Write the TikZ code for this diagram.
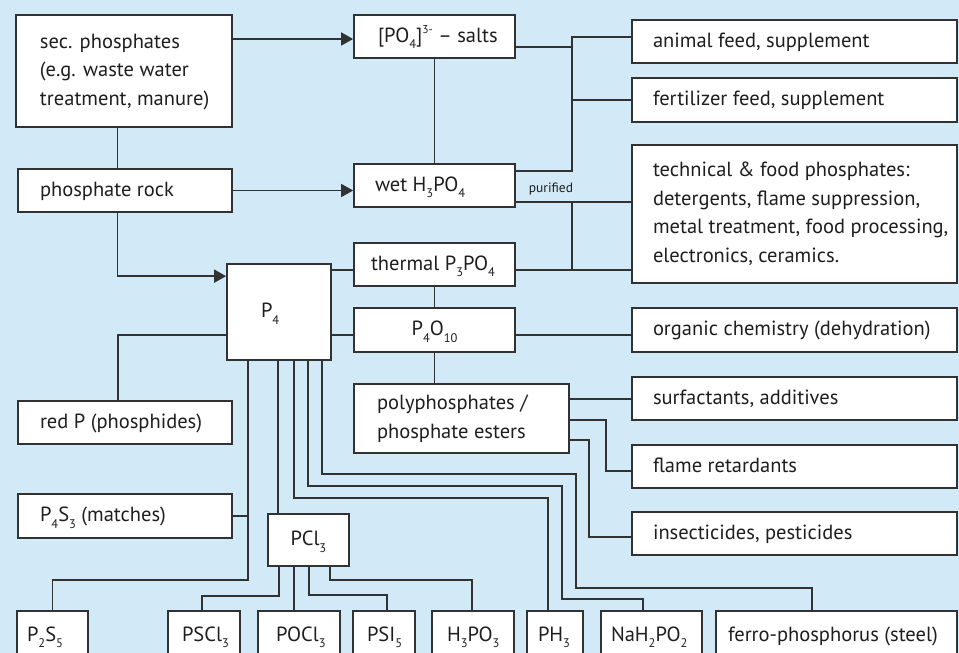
\documentclass[tikz,border=0pt]{standalone}
\usepackage{fontspec}
\setmainfont{PT Sans}
\usetikzlibrary{arrows.meta,calc}
\definecolor{bg}{RGB}{210,233,248}
\definecolor{lc}{RGB}{50,50,50}
\definecolor{txt}{RGB}{30,30,30}
\newcommand\dn[1]{\raisebox{-0.32em}{\fontsize{12.5}{12.5}\selectfont #1}}
\newcommand\up[1]{\raisebox{0.42em}{\fontsize{11.5}{11.5}\selectfont #1}}
\newcommand\bxt[3]{\hspace*{#1pt}\makebox[\dimexpr#2pt-#1pt\relax][l]{\begin{tabular}{@{}l@{}}#3\end{tabular}}}
\newcommand\bxc[2]{\makebox[#1pt]{\begin{tabular}{@{}c@{}}#2\end{tabular}}}
\tikzset{
  bxs/.style={draw=lc, line width=1.7pt, fill=white, inner xsep=0pt, inner ysep=0pt, text=txt, font=\fontsize{20.5}{28.5}\selectfont},
  conn/.style={draw=lc, line width=1.6pt},
  arr/.style={-{Triangle[length=12pt,width=13pt]}},
}
\begin{document}
\begin{tikzpicture}[x=1pt,y=-1pt]
\useasboundingbox (0,0) rectangle (959,653);
\fill[bg] (0,0) rectangle (959,653);
\clip (0,0) rectangle (959,653);
% left column
\node[bxs, minimum height=112pt] (sec) at (124,71) {\bxt{24}{216}{sec. phosphates\\(e.g. waste water\\treatment, manure)}};
\node[bxs, minimum height=43pt] (rock) at (125,190.5) {\bxt{22}{214}{phosphate rock}};
\node[bxs, minimum height=43pt] (redp) at (125,422.5) {\bxt{22}{214}{red P (phosphides)}};
\node[bxs, minimum height=44pt] (p4s3) at (125,516) {\bxt{22}{214}{P\dn{4}S\dn{3} (matches)}};
% middle column
\node[bxs, minimum height=43pt] (salts) at (434.5,36.5) {\bxt{24}{161}{[PO\dn{4}]\up{3-} -- salts}};
\node[bxs, minimum height=43pt] (wet) at (434.5,185.5) {\bxt{21}{161}{wet H\dn{3}PO\dn{4}}};
\node[bxs, minimum height=43pt] (thermal) at (434.5,264.5) {\bxt{17}{161}{thermal P\dn{3}PO\dn{4}}};
\node[bxs, minimum height=44pt] (p4o10) at (434.5,330) {\bxc{161}{P\dn{4}O\dn{10}}};
\node[bxs, minimum height=69pt] (poly) at (461.5,418.5) {\bxt{23}{215}{polyphosphates /\\phosphate esters}};
\node[bxs, minimum height=96pt] (p4) at (279,312) {\bxt{34}{104}{P\dn{4}}};
\node[bxs, minimum height=52pt] (pcl3) at (308.5,540) {\bxc{81}{PCl\dn{3}}};
% right column
\node[bxs, minimum height=43pt] (animal) at (794.5,41.5) {\bxt{21}{325}{animal feed, supplement}};
\node[bxs, minimum height=44pt] (fert) at (794.5,100) {\bxt{21}{325}{fertilizer feed, supplement}};
\node[bxs, minimum height=138pt] (tech) at (794.5,214) {\bxt{21}{325}{technical \& food phosphates:\\detergents, flame suppression,\\metal treatment, food processing,\\electronics, ceramics.}};
\node[bxs, minimum height=44pt] (organic) at (794.5,330) {\bxt{21}{325}{organic chemistry (dehydration)}};
\node[bxs, minimum height=43pt] (surf) at (794.5,398.5) {\bxt{21}{325}{surfactants, additives}};
\node[bxs, minimum height=43pt] (flame) at (794.5,466.5) {\bxt{21}{325}{flame retardants}};
\node[bxs, minimum height=43pt] (insect) at (794.5,533.5) {\bxt{21}{325}{insecticides, pesticides}};
% bottom row
\node[bxs, minimum height=49pt] (p2s5) at (52.5,635.5) {\bxt{10}{71}{P\dn{2}S\dn{5}}};
\node[bxs, minimum height=49pt] (pscl3) at (204,635.5) {\bxt{14}{72}{PSCl\dn{3}}};
\node[bxs, minimum height=49pt] (pocl3) at (299,635.5) {\bxt{18}{82}{POCl\dn{3}}};
\node[bxs, minimum height=49pt] (psi5) at (384,635.5) {\bxt{14}{62}{PSI\dn{5}}};
\node[bxs, minimum height=49pt] (h3po3) at (473,635.5) {\bxt{15}{82}{H\dn{3}PO\dn{3}}};
\node[bxs, minimum height=49pt] (ph3) at (555,635.5) {\bxt{11}{56}{PH\dn{3}}};
\node[bxs, minimum height=49pt] (nah) at (651.5,635.5) {\bxt{10}{101}{NaH\dn{2}PO\dn{2}}};
\node[bxs, minimum height=49pt] (ferro) at (836.5,635.5) {\bxt{12}{241}{ferro-phosphorus (steel)}};
% label
\node[text=txt, font=\fontsize{13.5}{13.5}\selectfont, inner sep=0pt] (pur) at (551,189) {purified};
% junction coordinates
\coordinate (b1) at (572,37);
\coordinate (b2) at (572,171);
\coordinate (b3) at (572,202);
\coordinate (s1) at ([yshift=-2.5pt]salts.west);
\coordinate (t1) at ([yshift=-5.5pt]thermal.east);
\coordinate (v1) at ([xshift=-31pt]p4.south);
\coordinate (v2) at ([xshift=-14.5pt]pcl3.south);
% arrows
\draw[conn,arr] (sec.east |- s1) -- (s1);
\draw[conn,arr] (rock.east) -- (rock.east -| wet.west);
\draw[conn] ([xshift=-6.5pt]sec.south) -- ([xshift=-6.5pt]sec.south |- rock.north);
\draw[conn,arr] ([xshift=-7.5pt]rock.south) |- ([yshift=-13pt]p4.north west);
% top right bus
\draw[conn] (salts.south) -- (wet.north);
\draw[conn] ([yshift=4.5pt]animal.west) -- (b1) -- (b2) -- (b2 -| wet.east);
\draw[conn] ([yshift=-10.5pt]salts.east) -- ([yshift=-10.5pt]salts.east -| b1);
\draw[conn] (fert.west) -- (fert.west -| b1);
\draw[conn] ([yshift=-16.5pt]wet.east) -- ([yshift=-16.5pt]wet.east -| tech.west);
\draw[conn] (t1) -- (t1 -| tech.west);
\draw[conn] (b3) -- (b3 |- t1);
% P4 connections
\draw[conn] ([yshift=42pt]p4.east) -- ([yshift=42pt]p4.east -| thermal.west);
\draw[conn] ([yshift=-23pt]p4.east) -- ([yshift=-23pt]p4.east -| p4o10.west);
\draw[conn] (thermal.south) -- (p4o10.north);
\draw[conn] ([yshift=-5pt]p4o10.east) -- ([yshift=-5pt]p4o10.east -| organic.west);
\draw[conn] (p4o10.south) -- (p4o10.south |- poly.north);
\draw[conn] ([yshift=19.5pt]poly.east) -- ([yshift=19.5pt]poly.east -| surf.west);
\draw[conn] ([yshift=-1.5pt]poly.east) -- ++(36,0) |- ([yshift=-4.5pt]flame.west);
\draw[conn] ([yshift=-21.5pt]poly.east) -- ++(19,0) |- ([yshift=-3.5pt]insect.west);
\draw[conn] ([yshift=-23pt]p4.west) -| ([xshift=-7pt]redp.north);
\draw[conn] (v1) -- ++(0,219) -| (p2s5.north);
\draw[conn] (p4s3.east) -- (p4s3.east -| v1);
\draw[conn] ([xshift=-1pt]p4.south) -- ([xshift=-1pt]p4.south |- pcl3.north);
\draw[conn] ([xshift=15pt]p4.south) -- ++(0,137) -| ([xshift=-7pt]ph3.north);
\draw[conn] ([xshift=29pt]p4.south) -- ++(0,125) -- ++(254,0) -- ++(0,113) -| ([xshift=-8.5pt]nah.north);
\draw[conn] ([xshift=43pt]p4.south) -- ++(0,113) -- ++(254,0) -- ++(0,114) -| ([xshift=-24.5pt]ferro.north);
% PCl3 connections
\draw[conn] ([xshift=-29.5pt]pcl3.south) -- ++(0,29) -| ([xshift=-2pt]pscl3.north);
\draw[conn] (v2) -- (v2 |- pocl3.north);
\draw[conn] ([xshift=0.5pt]pcl3.south) -- ++(0,28) -| ([xshift=3pt]psi5.north);
\draw[conn] ([xshift=21.5pt]pcl3.south) -- ++(0,13) -| ([xshift=-1pt]h3po3.north);
\end{tikzpicture}
\end{document}
